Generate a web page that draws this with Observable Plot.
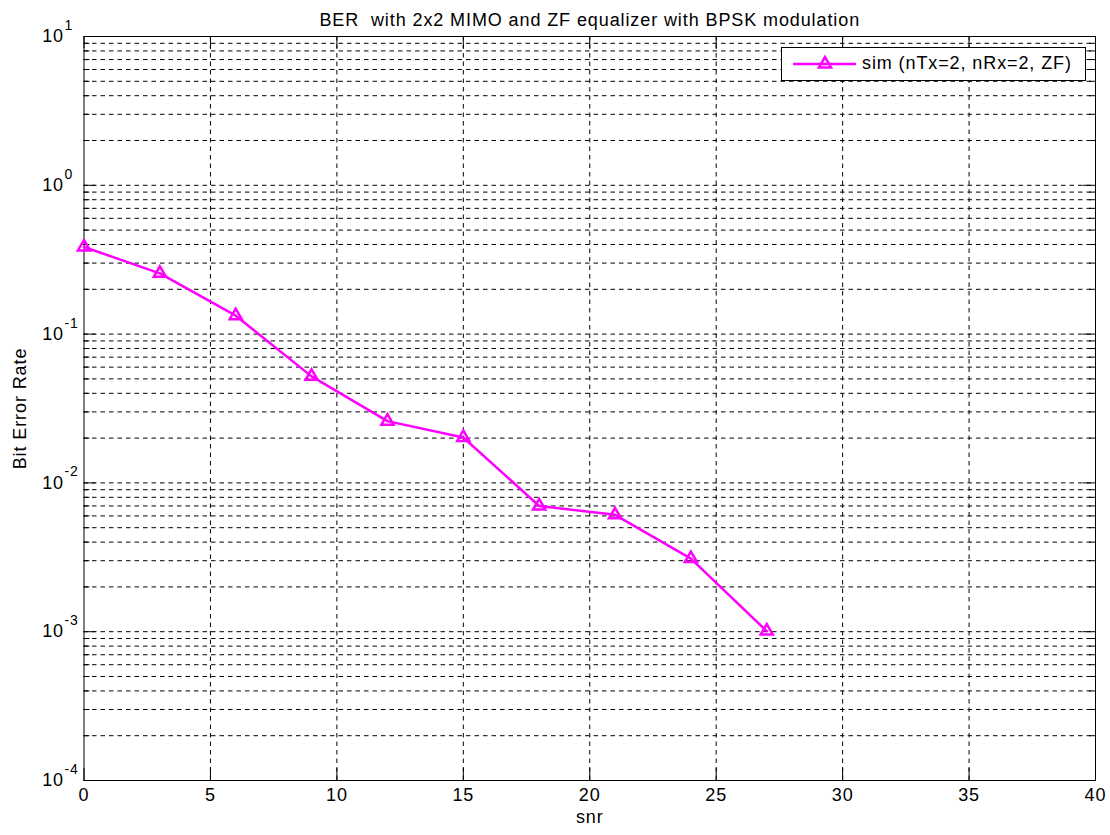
<!DOCTYPE html>
<html>
<head>
<meta charset="utf-8">
<script src="https://cdn.jsdelivr.net/npm/d3@7"></script>
<script src="https://cdn.jsdelivr.net/npm/@observablehq/plot@0.6"></script>
<style>
  html, body { margin: 0; padding: 0; background: #fff; }
  #wrap { position: relative; width: 1110px; height: 835px; font-family: "Liberation Sans", Arial, sans-serif; }
  #legend { position: absolute; left: 781px; top: 47px; width: 303px; height: 32px; border: 1px solid #000; background: #fff; }
  #legend svg { position: absolute; left: 0; top: 0; }
  #legend span { position: absolute; left: 80px; top: 5px; font-size: 18px; letter-spacing: 0.9px; color: #000; white-space: nowrap; }
</style>
</head>
<body>
<div id="wrap">
  <div id="chart"></div>
  <div id="legend">
    <svg width="303" height="32">
      <line x1="11" y1="16" x2="74" y2="16" stroke="#ff00ff" stroke-width="2.5"></line>
      <path id="legtri" fill="none" stroke="#ff00ff" stroke-width="2.5"></path>
    </svg>
    <span id="legtext"></span>
  </div>
</div>
<script>
// ---- data ----
const snr = [0, 3, 6, 9, 12, 15, 18, 21, 24, 27];
const ber = [0.385, 0.256, 0.133, 0.052, 0.026, 0.0202, 0.0070, 0.0061, 0.0031, 0.00101];
const seriesName = "sim (nTx=2, nRx=2, ZF)";
const xTicks = [0, 5, 10, 15, 20, 25, 30, 35, 40];
const yMajorExp = [1, 0, -1, -2, -3, -4];
const titleText = "BER  with 2x2 MIMO and ZF equalizer with BPSK modulation";
const xLabel = "snr";
const yLabel = "Bit Error Rate";

const data = snr.map((s, i) => ({snr: s, ber: ber[i]}));
const yMajor = yMajorExp.map(e => Math.pow(10, e));
const yMinor = [];
for (let e = -4; e < 1; e++) for (let m = 2; m <= 9; m++) yMinor.push(m * Math.pow(10, e));
const yAll = yMajor.concat(yMinor);

const W = 1110, H = 835;
const mL = 83.5, mR = 15, mT = 36, mB = 55;
const pw = W - mL - mR, ph = H - mT - mB;
const font = "'Liberation Sans', Arial, sans-serif";
const dash = "4.5,4";
const magenta = "#ff00ff";
const fs = 18;

const chart = Plot.plot({
  width: W, height: H,
  marginLeft: mL, marginRight: mR, marginTop: mT, marginBottom: mB,
  style: {fontFamily: font, fontSize: fs + "px", letterSpacing: "0.9px", background: "#fff", color: "#000", overflow: "visible"},
  x: {domain: [0, 40], ticks: xTicks, tickSize: 0, tickPadding: 9, tickFormat: d => String(d), label: null},
  y: {type: "log", domain: [1e-4, 10], axis: null},
  marks: [
    // grid
    Plot.ruleX(xTicks.slice(1, -1), {x: d => d, stroke: "#000", strokeWidth: 1, strokeDasharray: dash}),
    Plot.ruleY(yAll, {y: d => d, stroke: "#000", strokeWidth: 1, strokeDasharray: dash}),
    // ticks (inside)
    Plot.tickX(xTicks, {x: d => d, insetTop: ph - 12, stroke: "#000"}),
    Plot.tickX(xTicks, {x: d => d, insetBottom: ph - 12, stroke: "#000"}),
    Plot.tickY(yMajor, {y: d => d, insetRight: pw - 12, stroke: "#000"}),
    Plot.tickY(yMajor, {y: d => d, insetLeft: pw - 12, stroke: "#000"}),
    Plot.tickY(yMinor, {y: d => d, insetRight: pw - 6, stroke: "#000"}),
    Plot.tickY(yMinor, {y: d => d, insetLeft: pw - 6, stroke: "#000"}),
    Plot.frame({stroke: "#000", strokeWidth: 1}),
    // x axis labels
    Plot.axisX({ticks: xTicks, tickSize: 0, tickPadding: 8, tickFormat: d => String(d), label: null, fontSize: fs}),
    // y axis labels 10^k
    Plot.text(yMajor, {y: d => d, frameAnchor: "left", text: () => "10", textAnchor: "end", dx: -20, fontSize: fs}),
    Plot.text(yMajorExp, {y: d => Math.pow(10, d), frameAnchor: "left", text: d => String(d), textAnchor: "start", dx: -19.5, dy: -11, fontSize: 14}),
    // axis titles
    Plot.text([xLabel], {frameAnchor: "bottom", text: d => d, textAnchor: "middle", dy: 42, fontSize: fs}),
    Plot.text([yLabel], {frameAnchor: "left", text: d => d, textAnchor: "middle", rotate: -90, dx: -63.5, fontSize: fs}),
    Plot.text([titleText], {frameAnchor: "top", text: d => d, textAnchor: "middle", dy: -23, fontSize: fs}),
    // data
    Plot.line(data, {x: "snr", y: "ber", stroke: magenta, strokeWidth: 2.5}),
    Plot.dot(data, {x: "snr", y: "ber", symbol: "triangle", r: 4.5, fill: "none", stroke: magenta, strokeWidth: 2.5})
  ]
});
document.getElementById("chart").appendChild(chart);

// legend symbol
document.getElementById("legtri").setAttribute("d", d3.symbol(d3.symbolTriangle, Math.PI * 4.5 * 4.5)());
document.getElementById("legtri").setAttribute("transform", "translate(43,16)");
document.getElementById("legtext").textContent = seriesName;
</script>
</body>
</html>
